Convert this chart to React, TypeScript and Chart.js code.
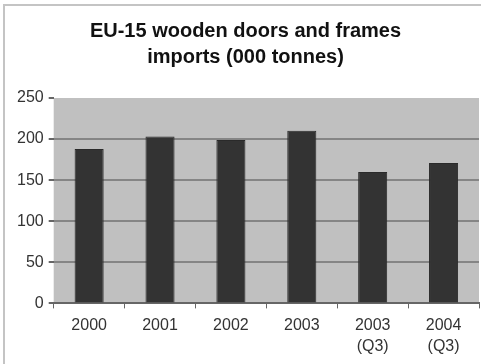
import React, { useEffect, useRef } from "react";
import { Chart, registerables } from "chart.js";

Chart.register(...registerables);

const titleLines = ["EU-15 wooden doors and frames", "imports (000 tonnes)"];
const categories: (string | string[])[] = [
  "2000",
  "2001",
  "2002",
  "2003",
  ["2003", "(Q3)"],
  ["2004", "(Q3)"],
];
const importValues = [188, 203, 199, 210, 160, 171];
const yMin = 0;
const yMax = 250;
const yStep = 50;

const framePlugin = {
  id: "frameAndPlotBg",
  beforeDraw(chart: any) {
    const { ctx, chartArea } = chart;
    ctx.save();
    ctx.fillStyle = "#ffffff";
    ctx.fillRect(0, 0, chart.width, chart.height);
    ctx.strokeStyle = "#c4c4c4";
    ctx.lineWidth = 2;
    ctx.strokeRect(4, 5, chart.width + 10, chart.height + 10);
    ctx.fillStyle = "#c0c0c0";
    ctx.fillRect(
      chartArea.left,
      chartArea.top,
      chartArea.right - chartArea.left,
      chartArea.bottom - chartArea.top
    );
    ctx.restore();
  },
};

export default function App() {
  const ref = useRef<HTMLCanvasElement | null>(null);
  useEffect(() => {
    if (!ref.current) return;
    const chart = new Chart(ref.current, {
      type: "bar",
      data: {
        labels: categories,
        datasets: [
          {
            data: importValues,
            backgroundColor: "#333333",
            borderColor: "#2a2a2a",
            borderWidth: 1,
            categoryPercentage: 1,
            barPercentage: 0.41,
          },
        ],
      },
      options: {
        animation: false,
        responsive: false,
        maintainAspectRatio: false,
        layout: { padding: { top: 18, right: 2, left: 12, bottom: 0 } },
        plugins: {
          legend: { display: false },
          tooltip: { enabled: false },
          title: {
            display: true,
            text: titleLines,
            color: "#111111",
            font: {
              family: "Liberation Sans, Arial, sans-serif",
              size: 20,
              weight: "bold",
              lineHeight: 1.3,
            },
            padding: { top: 0, bottom: 28 },
          },
        },
        scales: {
          x: {
            grid: {
              display: true,
              drawOnChartArea: false,
              drawTicks: true,
              tickLength: 5,
              offset: true,
              color: "#666666",
            },
            border: { display: true, color: "#666666", width: 2 },
            ticks: {
              color: "#333333",
              font: { family: "Liberation Sans, Arial, sans-serif", size: 16, lineHeight: 1.3 },
              maxRotation: 0,
              autoSkip: false,
              padding: 7,
            },
          },
          y: {
            min: yMin,
            max: yMax,
            ticks: {
              stepSize: yStep,
              color: "#333333",
              font: { family: "Liberation Sans, Arial, sans-serif", size: 16 },
              padding: 5,
            },
            grid: {
              color: (c: any) => (c.tick && c.tick.value === yMax ? "rgba(0,0,0,0)" : "#858585"),
              lineWidth: 2,
              tickLength: 5,
              tickColor: "#666666",
            },
            border: { display: false },
          },
        },
      },
      plugins: [framePlugin],
    });
    return () => chart.destroy();
  }, []);
  return (
    <div style={{ position: "absolute", left: 0, top: 0, width: 481, height: 364 }}>
      <canvas ref={ref} width={481} height={364} style={{ width: 481, height: 364 }} />
    </div>
  );
}
